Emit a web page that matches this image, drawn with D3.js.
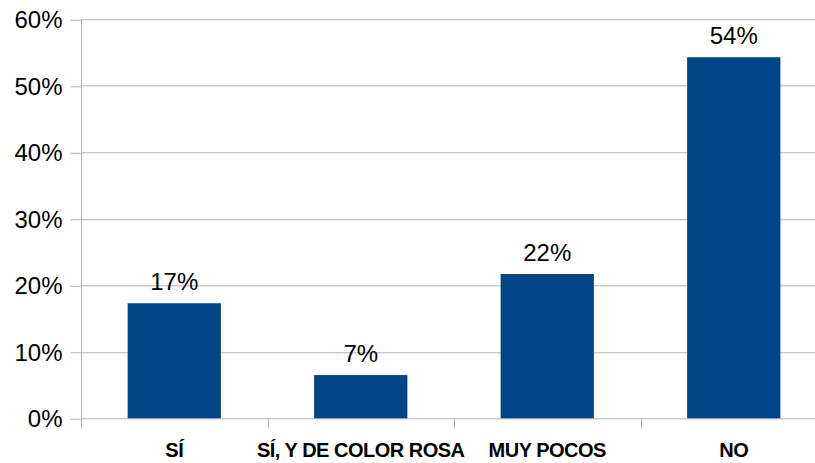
<!DOCTYPE html>
<html>
<head>
<meta charset="utf-8">
<script src="https://cdn.jsdelivr.net/npm/d3@7"></script>
<style>
  body { margin: 0; background: #fff; }
  svg { display: block; font-family: "Liberation Sans", Arial, sans-serif; }
  .grid line { stroke: #b3b3b3; stroke-width: 1; }
  .axis path, .axis line { stroke: #b3b3b3; stroke-width: 1; }
  .axis text { fill: #000; }
</style>
</head>
<body>
<div id="graph"></div>
<script>
// chart data
var categories = ['SÍ', 'SÍ, Y DE COLOR ROSA', 'MUY POCOS', 'NO'];
var values = [17.3, 6.5, 21.7, 54.3];
var yTicks = [0, 10, 20, 30, 40, 50, 60];

var width = 815, height = 463;
var margin = { top: 19.3, right: -12, bottom: 44.7, left: 81 };
var innerW = width - margin.left - margin.right;
var innerH = height - margin.top - margin.bottom;

var svg = d3.select('#graph').append('svg')
  .attr('width', width)
  .attr('height', height);

var g = svg.append('g')
  .attr('transform', 'translate(' + margin.left + ',' + margin.top + ')');

// scales
var x = d3.scaleBand()
  .domain(categories)
  .range([0, innerW])
  .paddingInner(0.5)
  .paddingOuter(0.25);

var y = d3.scaleLinear()
  .domain([0, 60])
  .range([innerH, 0]);

// horizontal gridlines
g.append('g')
  .attr('class', 'grid')
  .selectAll('line')
  .data(yTicks)
  .enter().append('line')
  .attr('x1', 0)
  .attr('x2', width - margin.left)
  .attr('y1', function(d) { return Math.round(y(d)) + 0.5; })
  .attr('y2', function(d) { return Math.round(y(d)) + 0.5; });

// y axis
var yAxis = g.append('g')
  .attr('class', 'axis')
  .attr('transform', 'translate(0.5,0)')
  .call(d3.axisLeft(y)
    .tickValues(yTicks)
    .tickSize(11)
    .tickPadding(8)
    .tickFormat(function(d) { return d + '%'; }));
yAxis.select('.domain').remove();
yAxis.selectAll('.tick line').attr('transform', 'translate(0,0.5)');
yAxis.selectAll('text')
  .style('font-size', '24px')
  .attr('dy', '0.36em');

// vertical axis line (extends a little below the baseline)
g.append('line')
  .attr('class', 'axis-line')
  .attr('x1', 0.5).attr('x2', 0.5)
  .attr('y1', 0).attr('y2', innerH + 10)
  .attr('stroke', '#b3b3b3');

// category separators below the baseline
var separators = categories.slice(1).map(function(c) {
  return x(c) - x.step() * x.paddingInner() / 2;
});
g.selectAll('.sep')
  .data(separators)
  .enter().append('line')
  .attr('class', 'sep')
  .attr('x1', function(d) { return Math.round(d) + 0.5; })
  .attr('x2', function(d) { return Math.round(d) + 0.5; })
  .attr('y1', innerH)
  .attr('y2', innerH + 10)
  .attr('stroke', '#b3b3b3');

// bars
g.selectAll('rect.bar')
  .data(values)
  .enter().append('rect')
  .attr('class', 'bar')
  .attr('x', function(d, i) { return x(categories[i]); })
  .attr('width', x.bandwidth())
  .attr('y', function(d) { return y(d); })
  .attr('height', function(d) { return innerH - y(d); })
  .attr('fill', '#004586');

// value labels
g.selectAll('text.value')
  .data(values)
  .enter().append('text')
  .attr('class', 'value')
  .attr('x', function(d, i) { return x(categories[i]) + x.bandwidth() / 2; })
  .attr('y', function(d) { return y(d) - 13; })
  .attr('text-anchor', 'middle')
  .style('font-size', '24px')
  .attr('fill', '#000')
  .text(function(d) { return Math.round(d) + '%'; });

// category labels
g.selectAll('text.cat')
  .data(categories)
  .enter().append('text')
  .attr('class', 'cat')
  .attr('x', function(d) { return x(d) + x.bandwidth() / 2; })
  .attr('y', innerH + 39)
  .attr('text-anchor', 'middle')
  .style('font-size', '20px')
  .style('font-weight', 'bold')
  .style('letter-spacing', '-0.5px')
  .attr('fill', '#000')
  .text(function(d) { return d; });
</script>
</body>
</html>
